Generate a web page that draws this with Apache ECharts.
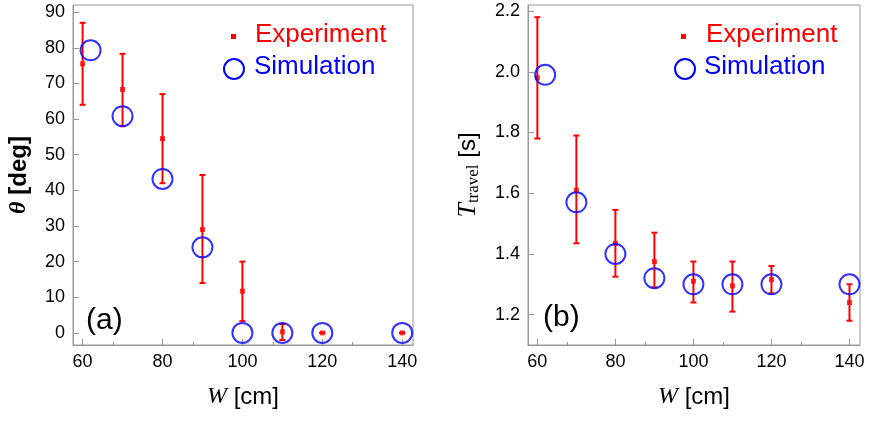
<!DOCTYPE html>
<html>
<head>
<meta charset="utf-8">
<script src="https://cdn.jsdelivr.net/npm/echarts@6/dist/echarts.min.js"></script>
</head>
<body style="margin:0;background:#fff">
<div id="main" style="width:872px;height:427px"></div>
<script>
// (a) angle
var expW = [60, 70, 80, 90, 100, 110, 120, 140];
var expTheta = [75.5, 68.3, 54.5, 29, 11.7, 0.3, 0, 0];
var expThetaLo = [64, 58, 42, 14, 3.3, -2, 0, 0];
var expThetaHi = [87, 78.3, 67, 44.3, 20, 2.5, 0, 0];
var simW = [62, 70, 80, 90, 100, 110, 120, 140];
var simTheta = [79.3, 60.8, 43.2, 24, 0, 0, 0, 0];
// (b) travel time
var expT = [1.98, 1.61, 1.435, 1.375, 1.31, 1.295, 1.315, 1.24];
var expTLo = [1.78, 1.435, 1.325, 1.29, 1.24, 1.21, 1.27, 1.18];
var expTHi = [2.18, 1.79, 1.545, 1.47, 1.375, 1.375, 1.36, 1.3];
var simT = [1.99, 1.57, 1.4, 1.32, 1.3, 1.3, 1.3, 1.3];

var chart = echarts.init(document.getElementById('main'));

function pairs(xs, ys) { return xs.map(function (x, i) { return [x, ys[i]]; }); }
function errData(xs, lo, hi) { return xs.map(function (x, i) { return [x, lo[i], hi[i]]; }); }

function errSeries(idx, data) {
  return {
    type: 'custom', xAxisIndex: idx, yAxisIndex: idx, z: 3,
    renderItem: function (params, api) {
      var lo = api.coord([api.value(0), api.value(1)]);
      var hi = api.coord([api.value(0), api.value(2)]);
      var st = { stroke: '#f00', lineWidth: 2 };
      return { type: 'group', children: [
        { type: 'line', shape: { x1: lo[0], y1: lo[1], x2: hi[0], y2: hi[1] }, style: st },
        { type: 'line', shape: { x1: lo[0] - 3, y1: lo[1], x2: lo[0] + 3, y2: lo[1] }, style: st },
        { type: 'line', shape: { x1: hi[0] - 3, y1: hi[1], x2: hi[0] + 3, y2: hi[1] }, style: st }
      ]};
    },
    encode: { x: 0, y: [1, 2] },
    data: data
  };
}

var axisCommon = {
  axisLine: { show: true, onZero: false, lineStyle: { color: '#999' } },
  axisTick: { inside: true, length: 6, lineStyle: { color: '#999' } },
  minorTick: { show: true, splitNumber: 2, length: 3, lineStyle: { color: '#999' } },
  splitLine: { show: false },
  axisLabel: { color: '#000', fontSize: 18, fontFamily: 'Liberation Sans' }
};

function xAx(idx) {
  return Object.assign({}, axisCommon, {
    type: 'value', gridIndex: idx, min: 57.6, max: 142.7, interval: 20,
    axisLabel: Object.assign({}, axisCommon.axisLabel, {
      customValues: [60, 80, 100, 120, 140]
    }),
    axisTick: Object.assign({}, axisCommon.axisTick, { customValues: [60, 80, 100, 120, 140] }),
    name: '{i|W} [cm]', nameLocation: 'middle', nameGap: 40,
    nameTextStyle: { fontSize: 24, fontFamily: 'Liberation Sans', color: '#000',
      rich: { i: { fontStyle: 'italic', fontSize: 24, fontFamily: 'Liberation Serif' } } }
  });
}

var sym = 'circle';
chart.setOption({
  animation: false,
  grid: [
    { left: 73, top: 5, width: 340, height: 340, show: true, borderColor: '#999', borderWidth: 1 },
    { left: 528, top: 5, width: 332, height: 340, show: true, borderColor: '#999', borderWidth: 1 }
  ],
  xAxis: [xAx(0), xAx(1)],
  yAxis: [
    Object.assign({}, axisCommon, {
      type: 'value', gridIndex: 0, min: -3.4, max: 92,
      axisLabel: Object.assign({}, axisCommon.axisLabel, { customValues: [0,10,20,30,40,50,60,70,80,90] }),
      axisTick: Object.assign({}, axisCommon.axisTick, { customValues: [0,10,20,30,40,50,60,70,80,90] }),
      minorTick: { show: false },
      name: '{i|θ} [deg]', nameLocation: 'middle', nameGap: 42,
      nameTextStyle: { fontSize: 24, fontWeight: 'bold', fontFamily: 'Liberation Sans', color: '#000',
        rich: { i: { fontStyle: 'italic', fontWeight: 'bold', fontSize: 24, fontFamily: 'Liberation Serif' } } }
    }),
    Object.assign({}, axisCommon, {
      type: 'value', gridIndex: 1, min: 1.1, max: 2.22,
      axisLabel: Object.assign({}, axisCommon.axisLabel, { customValues: [1.2,1.4,1.6,1.8,2.0,2.2],
        formatter: function (v) { return v.toFixed(1); } }),
      axisTick: Object.assign({}, axisCommon.axisTick, { customValues: [1.2,1.4,1.6,1.8,2.0,2.2] }),
      minorTick: { show: false },
      name: '{i|T}{s|travel} [s]', nameLocation: 'middle', nameGap: 46,
      nameTextStyle: { fontSize: 24, fontFamily: 'Liberation Sans', color: '#000',
        rich: { i: { fontStyle: 'italic', fontSize: 26, fontFamily: 'Liberation Serif' },
                s: { fontSize: 17, fontFamily: 'Liberation Serif', verticalAlign: 'bottom', padding: [10, 0, 0, 0] } } }
    })
  ],
  series: [
    errSeries(0, errData(expW, expThetaLo, expThetaHi)),
    { type: 'scatter', xAxisIndex: 0, yAxisIndex: 0, symbol: 'rect', symbolSize: 5, z: 4,
      itemStyle: { color: '#f00' }, data: pairs(expW, expTheta) },
    { type: 'scatter', xAxisIndex: 0, yAxisIndex: 0, symbol: sym, symbolSize: 20, z: 5,
      itemStyle: { color: 'rgba(0,0,0,0)', borderColor: '#00f', borderWidth: 2 }, data: pairs(simW, simTheta) },
    errSeries(1, errData(expW, expTLo, expTHi)),
    { type: 'scatter', xAxisIndex: 1, yAxisIndex: 1, symbol: 'rect', symbolSize: 5, z: 4,
      itemStyle: { color: '#f00' }, data: pairs(expW, expT) },
    { type: 'scatter', xAxisIndex: 1, yAxisIndex: 1, symbol: sym, symbolSize: 20, z: 5,
      itemStyle: { color: 'rgba(0,0,0,0)', borderColor: '#00f', borderWidth: 2 }, data: pairs(simW, simT) }
  ],
  graphic: [
    { type: 'rect', left: 231, top: 34, shape: { width: 5, height: 5 }, style: { fill: '#f00' } },
    { type: 'text', left: 255, top: 22, style: { text: 'Experiment', fill: '#f00', fontSize: 26, fontFamily: 'Liberation Sans' } },
    { type: 'circle', shape: { cx: 234, cy: 69, r: 10 }, style: { fill: 'none', stroke: '#00f', lineWidth: 2 } },
    { type: 'text', left: 254, top: 54, style: { text: 'Simulation', fill: '#00f', fontSize: 26, fontFamily: 'Liberation Sans' } },
    { type: 'text', left: 86, top: 306, style: { text: '(a)', fill: '#000', fontSize: 30, fontFamily: 'Liberation Sans' } },
    { type: 'rect', left: 681, top: 34, shape: { width: 5, height: 5 }, style: { fill: '#f00' } },
    { type: 'text', left: 706, top: 22, style: { text: 'Experiment', fill: '#f00', fontSize: 26, fontFamily: 'Liberation Sans' } },
    { type: 'circle', shape: { cx: 685, cy: 69, r: 10 }, style: { fill: 'none', stroke: '#00f', lineWidth: 2 } },
    { type: 'text', left: 704, top: 54, style: { text: 'Simulation', fill: '#00f', fontSize: 26, fontFamily: 'Liberation Sans' } },
    { type: 'text', left: 543, top: 303, style: { text: '(b)', fill: '#000', fontSize: 30, fontFamily: 'Liberation Sans' } }
  ]
});
</script>
</body>
</html>
